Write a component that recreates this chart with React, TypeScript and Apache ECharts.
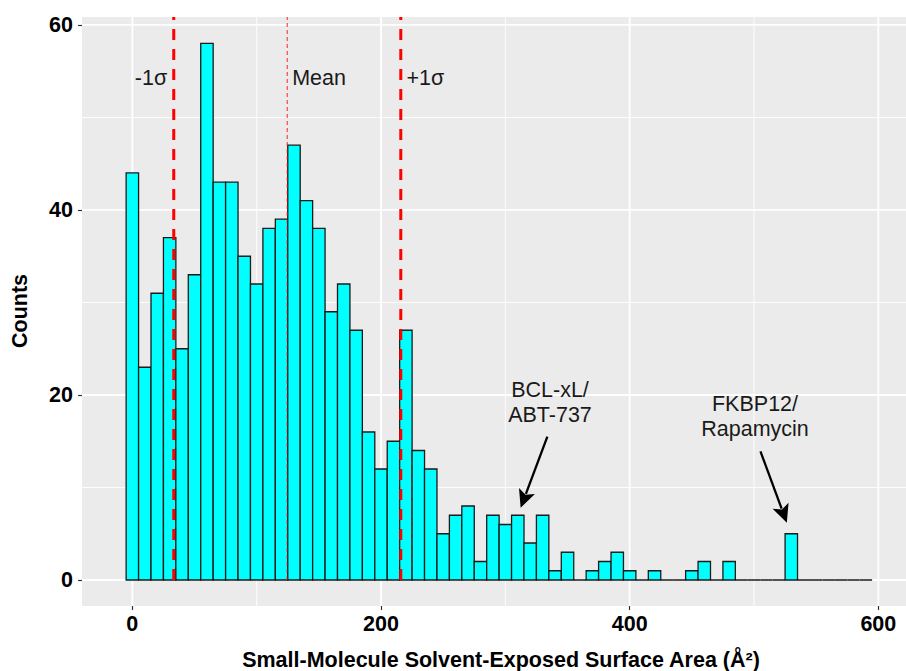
import React, { useEffect, useRef } from "react";
import * as echarts from "echarts";

// ---- data ----
const BIN_CENTERS = [
  0, 10, 20, 30, 40, 50, 60, 70, 80, 90,
  100, 110, 120, 130, 140, 150, 160, 170, 180, 190,
  200, 210, 220, 230, 240, 250, 260, 270, 280, 290,
  300, 310, 320, 330, 340, 350, 360, 370, 380, 390,
  400, 410, 420, 430, 440, 450, 460, 470, 480, 490,
  500, 510, 520, 530, 540, 550, 560, 570, 580, 590,
];
const COUNTS = [
  44, 23, 31, 37, 25, 33, 58, 43, 43, 35,
  32, 38, 39, 47, 41, 38, 29, 32, 27, 16,
  12, 15, 27, 14, 12, 5, 7, 8, 2, 7,
  6, 7, 4, 7, 1, 3, 0, 1, 2, 3,
  1, 0, 1, 0, 0, 1, 2, 0, 2, 0,
  0, 0, 0, 5, 0, 0, 0, 0, 0, 0,
];
const BIN_WIDTH = 10;
const MEAN_VALUE = 124.6;
const SIGMA_VALUES = [33.3, 215.9];
const X_TICKS = [0, 200, 400, 600];
const X_MINOR = [100, 300, 500];
const Y_TICKS = [0, 20, 40, 60];
const Y_MINOR = [10, 30, 50];
const LINE_LABELS = ["-1σ", "Mean", "+1σ"];
const LINE_LABEL_X = [15, 150.2, 235.7];
const LINE_LABEL_Y = 54.3;
const CALLOUT_TEXTS = ["BCL-xL/\nABT-737", "FKBP12/\nRapamycin"];
const CALLOUT_POS = [
  [335.9, 19.2],
  [500.8, 17.7],
];
const ARROW_FROM = [
  [333.8, 15.5],
  [505.2, 13.9],
];
const ARROW_TO = [
  [312.3, 7.8],
  [526.4, 6.2],
];
const X_TITLE = "Small-Molecule Solvent-Exposed Surface Area (Å²)";
const Y_TITLE = "Counts";

const X_MIN = -40.5;
const X_MAX = 622.25;
const Y_MIN = -2.81;
const Y_MAX = 60.86;

const FONT = "'Liberation Sans', Arial, Helvetica, sans-serif";

export default function App() {
  const ref = useRef<HTMLDivElement>(null);

  useEffect(() => {
    document.body.style.margin = "0";
    document.body.style.overflow = "hidden";
    if (!ref.current) return;
    const chart = echarts.init(ref.current, null, { renderer: "svg" });

    const option: any = {
      animation: false,
      backgroundColor: "#ffffff",
      tooltip: { show: false },
      grid: {
        left: 82,
        top: 17,
        right: 0,
        height: 589,
        show: true,
        backgroundColor: "#EBEBEB",
        borderWidth: 0,
      },
      xAxis: {
        type: "value",
        min: X_MIN,
        max: X_MAX,
        axisLine: { show: false, onZero: false },
        splitLine: { show: false },
        axisPointer: { show: false },
        axisTick: {
          show: true,
          length: 4,
          customValues: X_TICKS,
          lineStyle: { color: "#333333", width: 1.2 },
        },
        axisLabel: {
          customValues: X_TICKS,
          color: "#000",
          fontWeight: "bold",
          fontSize: 21.5,
          fontFamily: FONT,
          margin: 7,
        },
      },
      yAxis: {
        type: "value",
        min: Y_MIN,
        max: Y_MAX,
        axisLine: { show: false, onZero: false },
        splitLine: { show: false },
        axisPointer: { show: false },
        axisTick: {
          show: true,
          length: 4,
          customValues: Y_TICKS,
          lineStyle: { color: "#333333", width: 1.2 },
        },
        axisLabel: {
          customValues: Y_TICKS,
          color: "#000",
          fontWeight: "bold",
          fontSize: 21.5,
          fontFamily: FONT,
          margin: 9,
        },
      },
      series: [
        {
          type: "custom",
          name: "histogram",
          z: 2,
          data: BIN_CENTERS.map((c, i) => [c, COUNTS[i]]),
          renderItem: (params: any, api: any) => {
            const c = api.value(0);
            const n = api.value(1);
            const p0 = api.coord([c - BIN_WIDTH / 2, n]);
            const p1 = api.coord([c + BIN_WIDTH / 2, 0]);
            return {
              type: "rect",
              shape: {
                x: p0[0],
                y: p0[1],
                width: p1[0] - p0[0],
                height: p1[1] - p0[1],
              },
              style: { fill: "#00FFFF", stroke: "#1a1a1a", lineWidth: 1.3 },
            };
          },
        },
        {
          type: "custom",
          name: "sigma",
          z: 3,
          silent: true,
          data: SIGMA_VALUES.map((v) => [v, 0]),
          renderItem: (params: any, api: any) => {
            const cs = params.coordSys;
            const p = api.coord([api.value(0), 0]);
            return {
              type: "line",
              shape: { x1: p[0], y1: p[1], x2: p[0], y2: cs.y },
              style: { stroke: "#FF0000", lineWidth: 3, lineDash: [11, 9] },
            };
          },
        },
        {
          type: "custom",
          name: "mean",
          z: 3,
          silent: true,
          data: [[MEAN_VALUE, 0]],
          renderItem: (params: any, api: any) => {
            const cs = params.coordSys;
            const p = api.coord([api.value(0), 0]);
            return {
              type: "line",
              shape: { x1: p[0], y1: p[1], x2: p[0], y2: cs.y },
              style: {
                stroke: "rgba(255,0,0,0.65)",
                lineWidth: 1.3,
                lineDash: [4, 3],
              },
            };
          },
        },
      ],
    };

    chart.setOption(option);

    const toPx = (p: number[]) =>
      chart.convertToPixel({ gridIndex: 0 }, p) as number[];

    const top = 17;
    const bottom = 606;
    const left = 82;
    const right = 906;

    const graphics: any[] = [];
    // panel grid lines (above panel background, behind the bars)
    const addV = (v: number, w: number) => {
      const px = toPx([v, 0])[0];
      graphics.push({
        type: "line",
        z: 1,
        silent: true,
        shape: { x1: px, y1: top, x2: px, y2: bottom },
        style: { stroke: "#ffffff", lineWidth: w },
      });
    };
    const addH = (v: number, w: number) => {
      const py = toPx([0, v])[1];
      graphics.push({
        type: "line",
        z: 1,
        silent: true,
        shape: { x1: left, y1: py, x2: right, y2: py },
        style: { stroke: "#ffffff", lineWidth: w },
      });
    };
    X_MINOR.forEach((v) => addV(v, 0.9));
    Y_MINOR.forEach((v) => addH(v, 0.9));
    X_TICKS.forEach((v) => addV(v, 1.8));
    Y_TICKS.forEach((v) => addH(v, 1.8));

    graphics.push({
      type: "text",
      x: 501,
      y: 660,
      z: 10,
      style: {
        text: X_TITLE,
        fill: "#000",
        fontSize: 21.5,
        fontWeight: "bold",
        fontFamily: FONT,
        align: "center",
        verticalAlign: "middle",
      },
    });
    graphics.push({
      type: "text",
      x: 20,
      y: 311,
      rotation: Math.PI / 2,
      z: 10,
      style: {
        text: Y_TITLE,
        fill: "#000",
        fontSize: 21.5,
        fontWeight: "bold",
        fontFamily: FONT,
        align: "center",
        verticalAlign: "middle",
      },
    });
    LINE_LABELS.forEach((t, i) => {
      const p = toPx([LINE_LABEL_X[i], LINE_LABEL_Y]);
      graphics.push({
        type: "text",
        x: p[0],
        y: p[1],
        z: 10,
        style: {
          text: t,
          fill: "#1a1a1a",
          fontSize: 21.5,
          fontFamily: FONT,
          align: "center",
          verticalAlign: "middle",
        },
      });
    });
    CALLOUT_TEXTS.forEach((t, i) => {
      const p = toPx(CALLOUT_POS[i]);
      graphics.push({
        type: "text",
        x: p[0],
        y: p[1],
        z: 10,
        style: {
          text: t,
          fill: "#1a1a1a",
          fontSize: 21.5,
          lineHeight: 25,
          fontFamily: FONT,
          align: "center",
          verticalAlign: "middle",
        },
      });
      const a = toPx(ARROW_FROM[i]);
      const b = toPx(ARROW_TO[i]);
      const dx = b[0] - a[0];
      const dy = b[1] - a[1];
      const len = Math.sqrt(dx * dx + dy * dy);
      const ux = dx / len;
      const uy = dy / len;
      const headLen = 18;
      const headHalf = 8.5;
      const bx = b[0] - ux * headLen;
      const by = b[1] - uy * headLen;
      graphics.push({
        type: "line",
        z: 10,
        shape: { x1: a[0], y1: a[1], x2: bx + ux * 3, y2: by + uy * 3 },
        style: { stroke: "#000", lineWidth: 2.3 },
      });
      graphics.push({
        type: "polygon",
        z: 10,
        shape: {
          points: [
            [b[0], b[1]],
            [bx - uy * headHalf, by + ux * headHalf],
            [bx + ux * 4, by + uy * 4],
            [bx + uy * headHalf, by - ux * headHalf],
          ],
        },
        style: { fill: "#000" },
      });
    });
    chart.setOption({ graphic: graphics });

    return () => {
      chart.dispose();
    };
  }, []);

  return (
    <div
      ref={ref}
      style={{
        width: 906,
        height: 671,
        overflow: "hidden",
        background: "#fff",
      }}
    />
  );
}
